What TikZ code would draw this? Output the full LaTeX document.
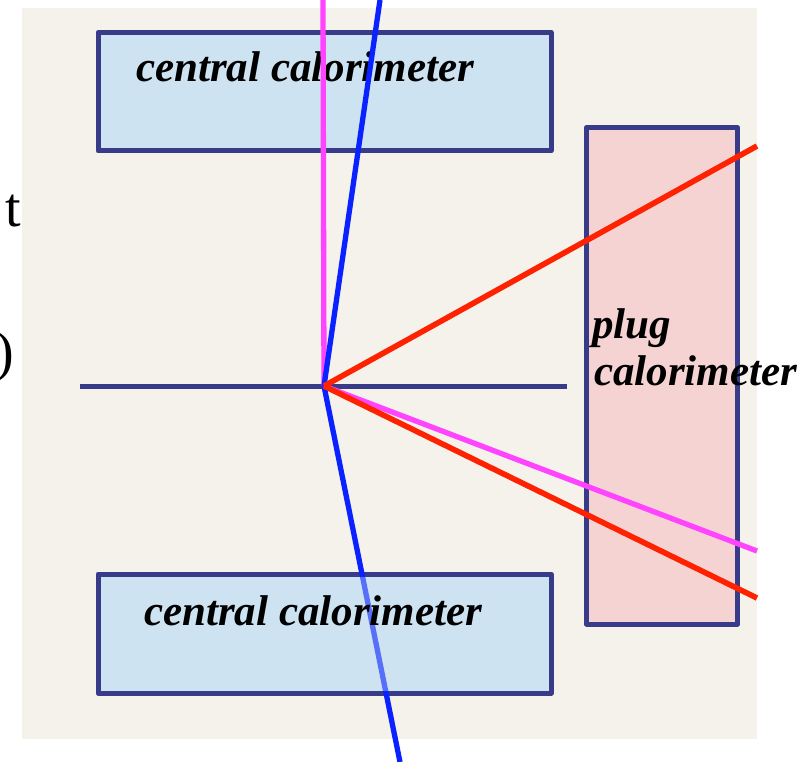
\documentclass[tikz,border=0pt]{standalone}
\usepackage{fontspec}
\setmainfont{Liberation Serif}
\definecolor{bgbeige}{HTML}{F4F2EA}
\definecolor{calblue}{HTML}{CDE3F1}
\definecolor{plugpink}{HTML}{F6D3D3}
\definecolor{edgeblue}{HTML}{383C88}
\definecolor{trkred}{HTML}{FF2200}
\definecolor{trkmag}{HTML}{FF44FF}
\definecolor{trkblue}{HTML}{0A22FF}
\begin{document}
\begin{tikzpicture}[x=1pt,y=-1pt,
  calbox/.style={draw=edgeblue, line width=5pt, line join=round, inner sep=0pt, outer sep=0pt},
  lbl/.style={inner sep=0pt, anchor=base west, font=\fontsize{43}{50}\selectfont\bfseries\itshape},
  cut/.style={inner sep=0pt, anchor=base east, font=\fontsize{56}{60}\selectfont},
  trk/.style={line width=5.3pt},
  beam/.style={draw=edgeblue, line width=5pt}]
\useasboundingbox (0,0) rectangle (803,762);
\fill[bgbeige] (22,8) rectangle (757,739);
% cut-off text at left
\node[cut] (tcut) at (21,226) {t};
\node[cut] (pcut) at (14,370) {)};
% boxes
\node[calbox, fill=calblue, minimum width=453pt, minimum height=118.5pt] (topcal) at (324.5,91.75) {};
\node[calbox, fill=calblue, minimum width=453pt, minimum height=119pt] (botcal) at (324.5,633.5) {};
\node[calbox, fill=plugpink, minimum width=151pt, minimum height=496.5pt] (plug) at (662,375.75) {};
% beam line
\coordinate (vtx) at (324,386);
\coordinate (beamL) at (80,386);
\coordinate (beamR) at (567,386);
\draw[beam] (beamL) -- (beamR);
% blue track going down, seen through the lower calorimeter
\coordinate (blueB) at (400,762);
\draw[trk, trkblue] (vtx) -- (blueB);
\fill[calblue, fill opacity=0.4] ([shift={(2.5pt,-2.5pt)}]botcal.north west) rectangle ([shift={(-2.5pt,2.5pt)}]botcal.south east);
% labels
\node[lbl] (toplbl) at (136,82) {central calorimeter};
\node[lbl] (botlbl) at (144,625) {central calorimeter};
\node[lbl] (pluglbl) at (592,338) {plug};
\node[lbl] (plugcal) at (594,385) {calorimeter};
% tracks
\coordinate (magT) at (323,0);
\coordinate (magR) at (757,551);
\coordinate (blueT) at (380,0);
\coordinate (redT) at (757,146);
\coordinate (redB) at (757,598);
\draw[trk, trkmag] (vtx) -- (magT);
\draw[trk, trkmag] (vtx) -- (magR);
\draw[trk, trkblue] (vtx) -- (blueT);
\draw[trk, trkred, line width=5.6pt] (vtx) -- (redT);
\draw[trk, trkred, line width=5.6pt] (vtx) -- (redB);
\end{tikzpicture}
\end{document}
